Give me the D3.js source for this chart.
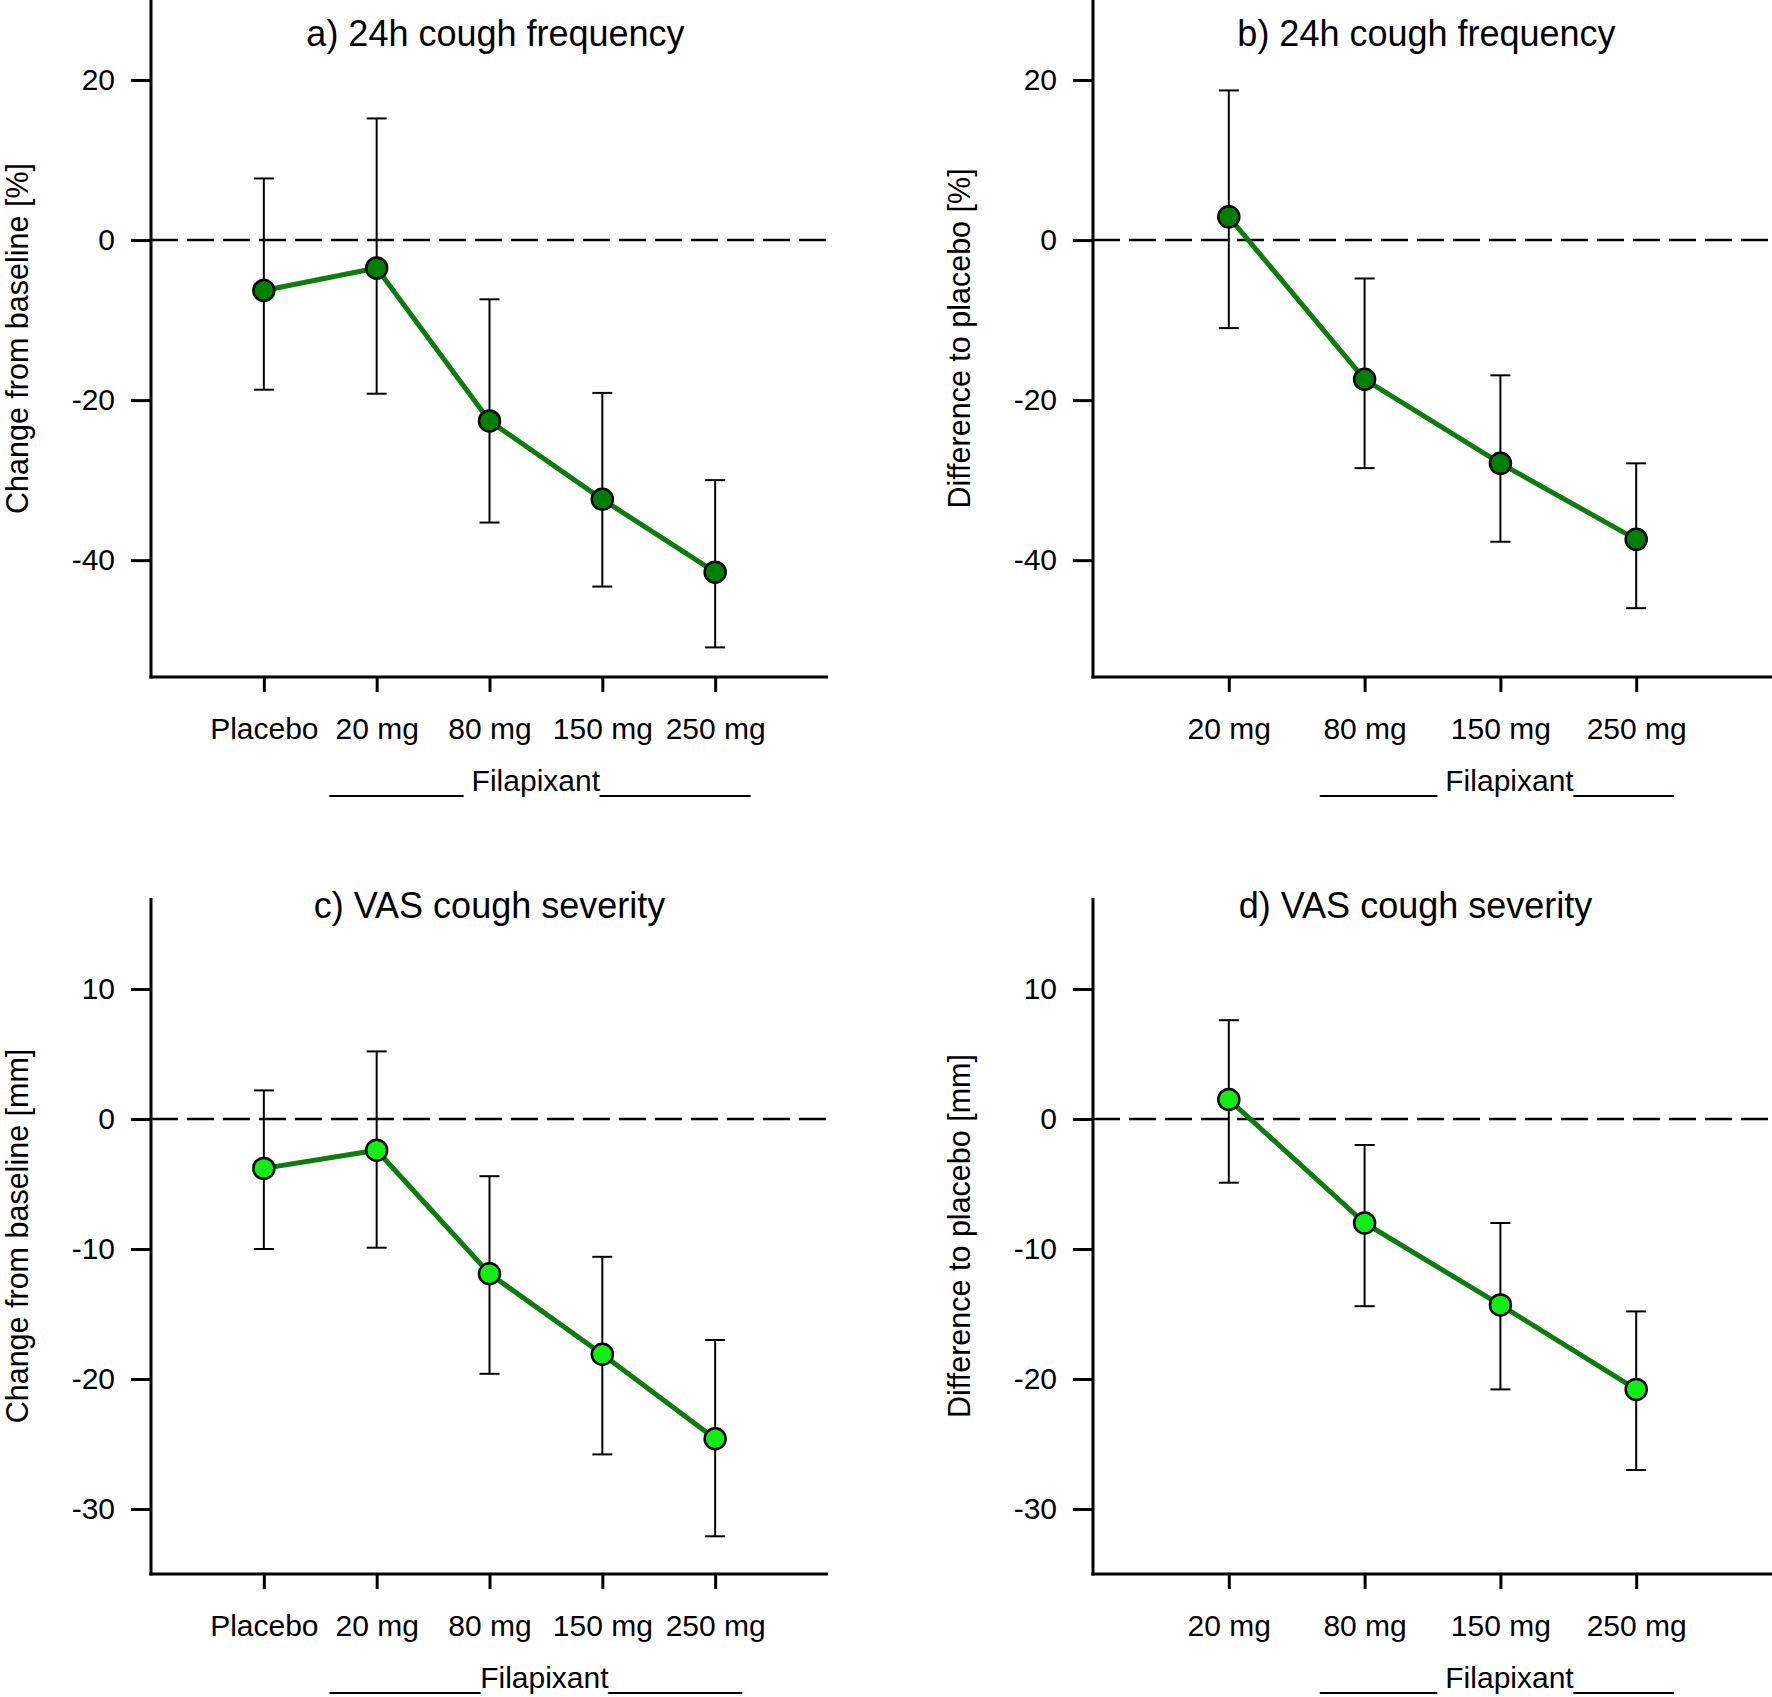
<!DOCTYPE html>
<html>
<head>
<meta charset="utf-8">
<script src="https://cdn.jsdelivr.net/npm/d3@7"></script>
<style>
  body { margin: 0; background: #fff; }
  svg { display: block; font-family: "Liberation Sans", Arial, sans-serif; }
</style>
</head>
<body>
<svg id="chart" width="1772" height="1697"></svg>
<script>
// categories
const dosesAll = ["Placebo", "20 mg", "80 mg", "150 mg", "250 mg"];
const dosesActive = ["20 mg", "80 mg", "150 mg", "250 mg"];

// a) 24h cough frequency, change from baseline [%]
const coughChange   = [-6.3, -3.5, -22.6, -32.4, -41.5];
const coughChangeLo = [-18.7, -19.2, -35.3, -43.3, -50.9];
const coughChangeHi = [7.7, 15.2, -7.4, -19.1, -30.0];

// b) 24h cough frequency, difference to placebo [%]
const coughDiff   = [2.9, -17.4, -27.9, -37.4];
const coughDiffLo = [-11.0, -28.5, -37.7, -46.0];
const coughDiffHi = [18.7, -4.8, -16.9, -27.9];

// c) VAS cough severity, change from baseline [mm]
const vasChange   = [-3.8, -2.4, -11.9, -18.1, -24.6];
const vasChangeLo = [-10.0, -9.9, -19.6, -25.8, -32.1];
const vasChangeHi = [2.2, 5.2, -4.4, -10.6, -17.0];

// d) VAS cough severity, difference to placebo [mm]
const vasDiff   = [1.5, -8.0, -14.3, -20.8];
const vasDiffLo = [-4.9, -14.4, -20.8, -27.0];
const vasDiffHi = [7.6, -2.0, -8.0, -14.8];

// tick labels
const coughTicks = [20, 0, -20, -40];
const vasTicks = [10, 0, -10, -20, -30];

const svg = d3.select('#chart');

const lineColor = '#0b7d0b';
const darkFill = '#008000';
const lightFill = '#11ee11';

function drawPanel(p) {
	const x = d3.scalePoint()
		.domain(p.cats)
		.range([p.left, p.right])
		.padding(1);

	const y = d3.scaleLinear()
		.domain(p.yDomain)
		.range([p.bottom, p.top]);

	const data = p.cats.map((c, i) => {
		return {'cat': c, 'y': p.mean[i], 'lo': p.lo[i], 'hi': p.hi[i]};
	});

	const g = svg.append('g');

	// y axis
	const yAxis = g.append('g')
		.attr('transform', 'translate(' + p.left + ',0)')
		.call(d3.axisLeft(y).tickValues(p.ticks).tickSize(20).tickPadding(16).tickFormat(d => String(d)));
	yAxis.select('.domain').remove();
	yAxis.selectAll('.tick line').attr('stroke', '#000').attr('stroke-width', 3);
	yAxis.selectAll('.tick text')
		.attr('font-size', 30)
		.attr('fill', '#000')
		.attr('font-family', '"Liberation Sans", Arial, sans-serif');

	g.append('line')
		.attr('x1', p.left).attr('x2', p.left)
		.attr('y1', p.top).attr('y2', p.bottom + 1.5)
		.attr('stroke', '#000').attr('stroke-width', 3);

	// x axis
	const xAxis = g.append('g')
		.attr('transform', 'translate(0,' + p.bottom + ')')
		.call(d3.axisBottom(x).tickSize(15).tickPadding(26));
	xAxis.select('.domain').remove();
	xAxis.selectAll('.tick line').attr('stroke', '#000').attr('stroke-width', 3);
	xAxis.selectAll('.tick text')
		.attr('font-size', 30)
		.attr('fill', '#000')
		.attr('font-family', '"Liberation Sans", Arial, sans-serif');

	g.append('line')
		.attr('x1', p.left - 1.5).attr('x2', p.right)
		.attr('y1', p.bottom).attr('y2', p.bottom)
		.attr('stroke', '#000').attr('stroke-width', 3);

	// zero reference line
	g.append('line')
		.attr('x1', p.left).attr('x2', p.right)
		.attr('y1', y(0)).attr('y2', y(0))
		.attr('stroke', '#000').attr('stroke-width', 2.6)
		.attr('stroke-dasharray', '27,9');

	// error bars
	const bars = g.append('g').selectAll('g')
		.data(data)
		.enter()
		.append('g');
	bars.append('line')
		.attr('x1', d => x(d.cat)).attr('x2', d => x(d.cat))
		.attr('y1', d => y(d.hi)).attr('y2', d => y(d.lo))
		.attr('stroke', '#000').attr('stroke-width', 2);
	bars.append('line')
		.attr('x1', d => x(d.cat) - 10).attr('x2', d => x(d.cat) + 10)
		.attr('y1', d => y(d.hi)).attr('y2', d => y(d.hi))
		.attr('stroke', '#000').attr('stroke-width', 2);
	bars.append('line')
		.attr('x1', d => x(d.cat) - 10).attr('x2', d => x(d.cat) + 10)
		.attr('y1', d => y(d.lo)).attr('y2', d => y(d.lo))
		.attr('stroke', '#000').attr('stroke-width', 2);

	// mean line
	g.append('path')
		.datum(data)
		.attr('fill', 'none')
		.attr('stroke', lineColor)
		.attr('stroke-width', 5)
		.attr('d', d3.line().x(d => x(d.cat)).y(d => y(d.y)));

	// markers
	g.append('g').selectAll('circle')
		.data(data)
		.enter()
		.append('circle')
		.attr('cx', d => x(d.cat))
		.attr('cy', d => y(d.y))
		.attr('r', 10.5)
		.attr('fill', p.fill)
		.attr('stroke', '#000')
		.attr('stroke-width', 2.5);

	// title
	g.append('text')
		.attr('x', (p.left + p.right) / 2 + p.titleDx)
		.attr('y', p.titleY)
		.attr('text-anchor', 'middle')
		.attr('font-size', 36)
		.text(p.title);

	// y label
	g.append('text')
		.attr('transform', 'translate(' + (p.left - 123) + ',' + ((p.top + p.bottom) / 2) + ') rotate(-90)')
		.attr('text-anchor', 'middle')
		.attr('font-size', 30.5)
		.text(p.yLabel);

	// drug label under x axis
	g.append('text')
		.attr('x', p.left + p.drugDx)
		.attr('y', p.bottom + 114)
		.attr('text-anchor', 'middle')
		.attr('font-size', 30)
		.text(p.drug);
}

const panels = [
	{title: 'a) 24h cough frequency', yLabel: 'Change from baseline [%]', cats: dosesAll,
	 mean: coughChange, lo: coughChangeLo, hi: coughChangeHi, ticks: coughTicks, yDomain: [-54.6, 30],
	 left: 151, right: 828, top: 0, bottom: 677, titleY: 46, titleDx: 6, fill: darkFill,
	 drug: '________ Filapixant_________', drugDx: 389},
	{title: 'b) 24h cough frequency', yLabel: 'Difference to placebo [%]', cats: dosesActive,
	 mean: coughDiff, lo: coughDiffLo, hi: coughDiffHi, ticks: coughTicks, yDomain: [-54.6, 30],
	 left: 1093, right: 1772, top: 0, bottom: 677, titleY: 46, titleDx: -6, fill: darkFill,
	 drug: '_______ Filapixant______', drugDx: 404},
	{title: 'c) VAS cough severity', yLabel: 'Change from baseline [mm]', cats: dosesAll,
	 mean: vasChange, lo: vasChangeLo, hi: vasChangeHi, ticks: vasTicks, yDomain: [-35, 17],
	 left: 151, right: 828, top: 898, bottom: 1574, titleY: 918, titleDx: 0, fill: lightFill,
	 drug: '_________Filapixant________', drugDx: 385},
	{title: 'd) VAS cough severity', yLabel: 'Difference to placebo [mm]', cats: dosesActive,
	 mean: vasDiff, lo: vasDiffLo, hi: vasDiffHi, ticks: vasTicks, yDomain: [-35, 17],
	 left: 1093, right: 1772, top: 898, bottom: 1574, titleY: 918, titleDx: -17, fill: lightFill,
	 drug: '_______ Filapixant______', drugDx: 404}
];

panels.forEach(drawPanel);
</script>
</body>
</html>
